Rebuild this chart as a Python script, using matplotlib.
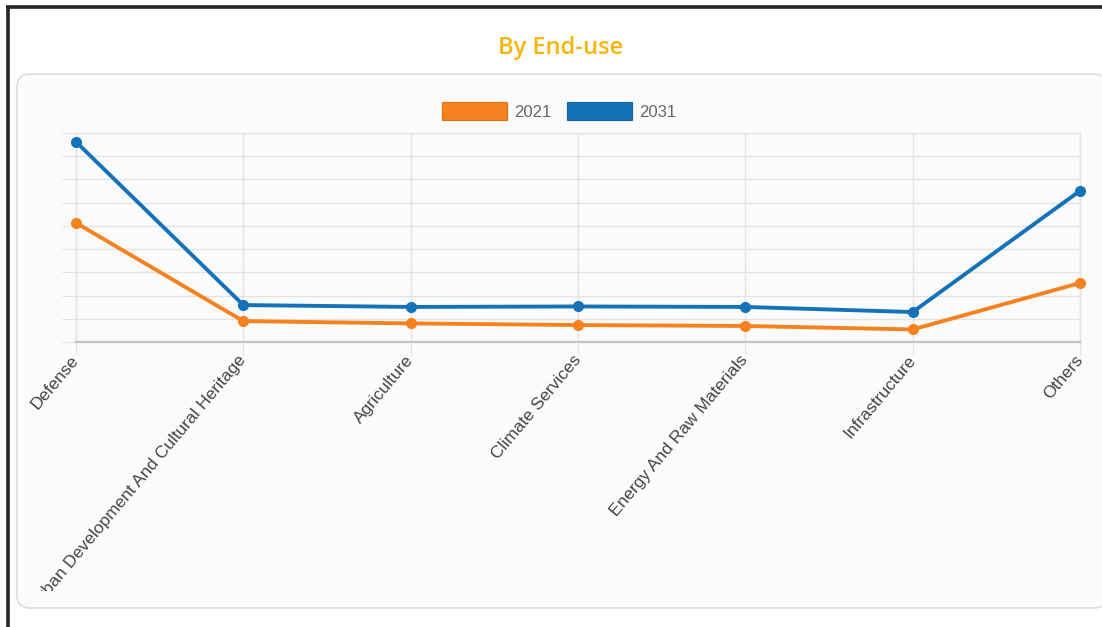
import numpy as np
import matplotlib
matplotlib.use("Agg")
import matplotlib.pyplot as plt
from matplotlib.patches import FancyBboxPatch, Patch
from matplotlib.transforms import Bbox, TransformedBbox

categories = ["Defense", "Urban Development And Cultural Heritage", "Agriculture",
              "Climate Services", "Energy And Raw Materials", "Infrastructure", "Others"]
years = ["2021", "2031"]
vals_2021 = [5.13, 0.90, 0.80, 0.73, 0.69, 0.54, 2.54]
vals_2031 = [8.62, 1.59, 1.51, 1.53, 1.51, 1.29, 6.51]

orange = "#f5821f"
blue = "#1473b8"
grid_c = "#e3e3e3"

W, H = 1102, 627
fig = plt.figure(figsize=(W / 100, H / 100), dpi=100)
fig.patch.set_facecolor("white")

# background layer in pixel coords
bg = fig.add_axes([0, 0, 1, 1])
bg.set_xlim(0, W)
bg.set_ylim(H, 0)
bg.axis("off")
panel = FancyBboxPatch((17, 74), 1090, 534, boxstyle="round,pad=0,rounding_size=13",
                       facecolor="#fbfbfb", edgecolor="#dcdcdc", lw=1.2)
bg.add_patch(panel)
bg.plot([7.5, 7.5], [627, 7], color="#262626", lw=2.6, solid_capstyle="butt")
bg.plot([6, 1102], [7, 7], color="#262626", lw=2.6, solid_capstyle="butt")
bg.text(561, 48, "By End-use", color="#f5b50a", fontsize=17, fontweight="semibold",
        family="Open Sans", ha="center", va="center")

# chart area
left, right, top, bottom = 76, 1080, 133, 342
ax = fig.add_axes([left / W, 1 - bottom / H, (right - left) / W, (bottom - top) / H])
ax.set_facecolor("none")
x = np.arange(len(categories))
ax.plot(x, vals_2021, color=orange, lw=2.8, marker="o", ms=7, clip_on=False, zorder=3)
ax.plot(x, vals_2031, color=blue, lw=2.8, marker="o", ms=7, clip_on=False, zorder=4)
ax.set_xlim(0, len(categories) - 1)
ax.set_ylim(0, 9)
ax.set_yticks(np.arange(0, 10))
ax.set_xticks(x)
ax.grid(True, color=grid_c, lw=1)
ax.set_axisbelow(True)
ax.tick_params(axis="y", length=10, color=grid_c, labelleft=False)
ax.tick_params(axis="x", length=9.5, color=grid_c, pad=1.5)
for s in ["left", "top", "right"]:
    ax.spines[s].set_color(grid_c)
    ax.spines[s].set_linewidth(1)
ax.spines["bottom"].set_color("#c4c4c4")
ax.spines["bottom"].set_linewidth(1.6)

ax.set_xticklabels(categories, rotation=50, ha="right", va="center",
                   rotation_mode="anchor", fontsize=12.5, color="#444444",
                   family="Liberation Sans")
# canvas bottom edge cuts the long label
clip = TransformedBbox(Bbox([[0, 1 - 591 / H], [1, 1]]), fig.transFigure)
for lab in ax.get_xticklabels():
    lab.set_clip_on(True)
    lab.set_clip_box(clip)

handles = [Patch(facecolor=orange, edgecolor="#e07010", lw=0.8),
           Patch(facecolor=blue, edgecolor="#0f64a5", lw=0.8)]
leg = fig.legend(handles, years, loc="center", bbox_to_anchor=(559 / W, 1 - 111 / H),
                 ncol=2, frameon=False, handlelength=3.9, handleheight=1.25,
                 handletextpad=0.45, columnspacing=0.9,
                 prop={"family": "Liberation Sans", "size": 12})
for t in leg.get_texts():
    t.set_color("#666666")

fig.savefig("out.png", dpi=100, facecolor="white")
